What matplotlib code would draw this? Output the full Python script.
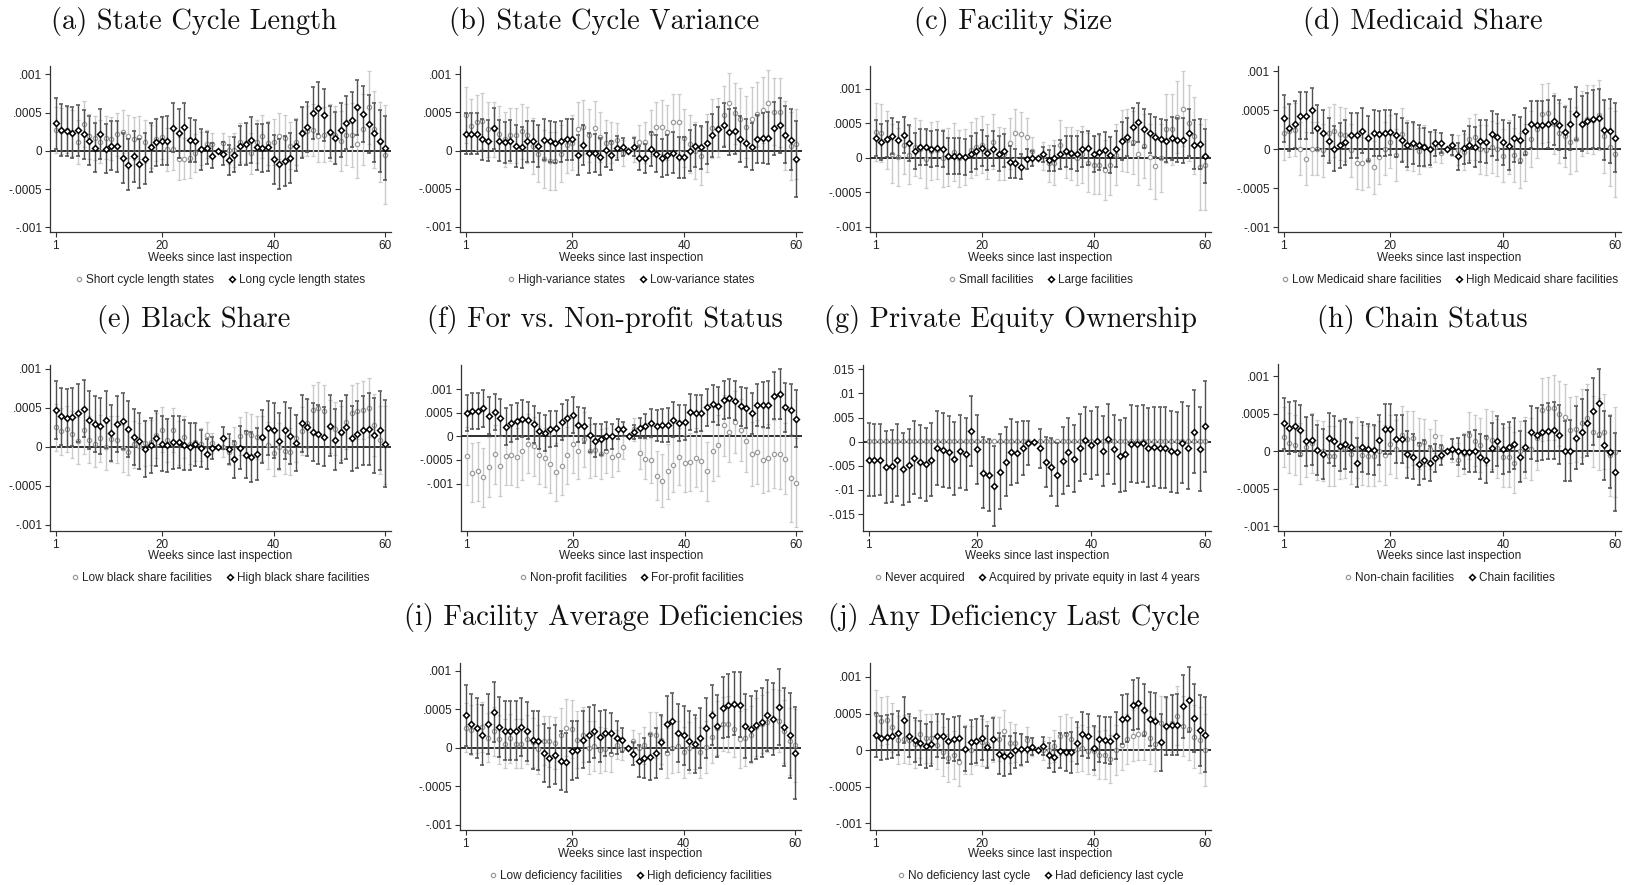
import matplotlib
matplotlib.use('Agg')
import matplotlib.pyplot as plt
from matplotlib.lines import Line2D

plt.rcParams['font.family'] = ['Liberation Sans', 'DejaVu Sans']

W, H = 1629, 885
fig = plt.figure(figsize=(W / 100, H / 100), dpi=100)

weeks = list(range(1, 61))
xticks = [1, 20, 40, 60]
xlabel = 'Weeks since last inspection'

# ---------------- data (estimates in units of 1e-5, panel g in 1e-4) ----------------
a_short = [27,26,27,24,12,35,19,17,12,17, 16,22,25,19,16,18,12,6,15,18, 2,3,-10,-10,-9,-3,3,9,9,0,
           10,1,1,11,10,-3,12,19,10,12, 20,17,7,12,25,26,27,20,21,24, 21,13,21,21,9,28,57,28,12,-5]
a_short_hw = [30,30,30,30,29,30,29,29,28,28, 28,28,28,28,28,28,28,28,28,28, 28,28,28,27,26,25,22,18,14,0,
              14,18,22,25,26,27,28,28,29,30, 30,30,31,31,32,33,34,35,36,37, 38,39,40,42,44,46,48,50,52,65]
a_long = [36,27,26,24,27,22,13,4,22,3, 7,6,-9,-18,-7,-17,-10,5,11,13, 13,30,23,31,14,13,2,4,-6,0,
          -4,-12,-5,7,9,14,5,4,5,-11, -17,-13,-9,7,24,31,49,56,47,25, 17,27,37,41,57,48,35,24,13,4]
a_long_hw = [33,34,33,33,33,32,32,32,33,32, 32,33,33,33,33,32,33,32,31,31, 32,32,32,31,29,28,27,21,16,0,
             15,20,23,26,28,30,30,31,31,32, 33,33,33,33,33,33,34,34,34,34, 34,35,35,36,36,37,38,39,40,42]

b_high = [47,32,37,39,28,28,22,15,20,20, 25,20,6,-4,-11,-14,-14,-4,7,10, 28,31,20,30,18,10,11,14,-3,0,
          2,11,11,23,31,31,24,37,37,17, 9,0,-7,10,29,30,46,63,49,42, 31,42,48,53,62,51,50,20,6,9]
b_high_hw = [37,36,36,37,36,36,36,36,36,36, 36,37,37,37,38,38,38,37,36,36, 36,36,35,35,33,30,27,22,17,0,
             17,22,27,30,33,35,36,37,37,38, 38,38,38,38,39,39,39,39,40,40, 41,41,42,43,44,44,45,45,45,46]
b_low = [22,22,22,15,13,29,13,11,13,6, 4,12,12,6,14,12,10,12,15,15, -6,7,-3,-3,-8,1,-6,3,5,0,
         5,-10,-10,2,-4,-10,-6,-3,-9,-9, 0,6,4,10,20,28,33,24,26,15, 10,5,15,16,16,29,33,21,14,-11]
b_low_hw = [27,27,27,27,27,27,27,27,27,27, 27,27,27,27,27,27,27,27,27,27, 26,26,26,25,24,22,19,16,12,0,
            12,16,19,22,24,25,26,27,27,27, 27,28,28,28,28,29,29,30,30,30, 31,31,32,33,34,35,36,38,40,50]

c_small = [37,36,25,6,1,18,4,15,13,-2, 10,11,0,1,8,-1,1,11,16,19, 9,23,6,5,21,35,34,30,10,0,
           2,-8,-7,19,8,6,0,5,-7,-11, -10,-18,-11,4,25,25,22,6,17,1, -12,0,42,41,59,71,50,32,-14,-10]
c_small_hw = [42,42,42,42,42,42,42,42,42,42, 42,42,42,42,42,41,41,41,41,41, 40,40,39,38,37,35,32,27,20,0,
              20,27,32,35,37,39,40,41,42,42, 43,43,43,44,44,45,45,46,46,47, 48,49,50,51,52,54,55,56,62,66]
c_large = [29,22,27,31,25,33,21,10,15,15, 13,14,12,2,3,2,1,5,10,14, 7,13,6,10,-6,-8,-13,-2,-1,0,
           5,-4,-1,5,9,7,6,12,14,6, 8,11,4,12,24,30,45,51,42,35, 30,27,24,28,26,25,36,19,20,3]
c_large_hw = [26,26,26,26,26,26,26,26,26,26, 26,26,26,26,26,26,26,26,26,26, 25,25,25,24,23,21,18,15,11,0,
              11,15,18,21,23,24,25,25,25,26, 26,26,26,26,27,27,27,28,28,28, 29,29,30,31,32,33,34,35,36,39]

d_low = [21,24,25,1,-12,1,1,-1,21,24, 20,19,-1,-17,-18,-14,-23,-10,1,10, -7,20,6,3,-2,4,0,3,-4,0,
         6,-1,-3,13,16,0,-1,3,0,-8, 3,-7,-14,-4,13,26,46,47,33,21, 17,9,13,33,39,38,44,17,3,-6]
d_low_hw = [34,34,34,34,34,34,34,34,34,34, 34,34,34,34,34,34,34,34,34,34, 33,33,32,31,29,27,23,19,14,0,
            14,19,23,27,29,31,32,33,34,34, 35,35,35,36,36,37,38,38,39,39, 40,40,41,42,43,44,45,47,50,55]
d_high = [40,28,32,43,43,50,28,21,11,1, 5,9,18,18,24,14,21,20,21,22, 18,12,6,8,5,3,1,8,8,0,
          6,-9,2,6,3,11,10,20,16,9, 4,14,12,23,32,31,31,33,37,31, 22,32,46,33,36,39,40,25,24,15]
d_high_hw = [30,30,30,30,30,29,29,29,29,29, 29,29,29,29,29,29,29,29,29,29, 28,28,28,27,26,24,21,17,13,0,
             13,17,21,24,26,27,28,29,29,29, 30,30,30,30,30,31,31,31,32,32, 33,33,34,35,36,37,38,39,41,44]

e_low = [25,20,23,16,8,21,9,4,11,0, 10,9,-2,-6,3,1,5,6,15,22, 9,22,5,13,4,6,3,15,5,0,
         0,-6,5,14,19,15,12,11,2,-8, 0,-5,-6,11,20,30,47,50,46,26, 23,18,32,43,46,47,50,28,9,2]
e_low_hw = [30,30,30,30,30,30,30,30,30,30, 30,30,30,30,30,30,29,29,29,29, 28,28,28,27,26,24,21,17,13,0,
            13,17,21,24,26,27,28,29,30,30, 30,30,30,31,31,32,32,33,33,34, 34,35,35,36,36,37,38,40,44,50]
e_high = [47,39,37,38,43,49,34,29,27,35, 18,29,33,23,13,8,-3,2,11,4, 2,6,6,2,0,3,-2,-9,-2,0,
          11,-3,-16,-1,-10,-13,-9,13,24,21, 7,21,14,5,30,25,19,16,13,27, 9,19,25,11,16,21,23,15,21,4]
e_high_hw = [37,37,37,37,37,37,37,36,36,36, 36,36,36,36,36,36,36,35,35,35, 34,34,33,32,30,28,24,19,14,0,
             14,19,24,28,30,32,33,34,35,35, 36,36,36,36,37,37,37,38,38,39, 39,40,41,42,43,44,46,48,51,56]

f_non = [-42,-77,-74,-87,-65,-38,-63,-41,-40,-44, -30,-15,-21,-39,-45,-58,-75,-63,-40,-16,
         -31,-6,-31,-28,-38,-30,-44,-40,-23,0, 15,-35,-48,-51,-83,-94,-74,-60,-43,-57,
         -54,-45,-52,-74,-31,-19,24,10,30,13, -9,-38,-33,-51,-45,-38,-37,-47,-88,-98]
f_non_hw = [62,63,63,63,63,63,63,63,63,63, 62,62,62,62,62,62,62,62,61,61, 60,59,58,56,53,48,42,34,24,0,
            24,34,42,48,53,56,58,59,60,61, 62,62,63,63,64,64,65,65,66,66, 67,68,69,70,71,72,74,76,93,95]
f_for = [50,54,54,60,44,52,40,21,28,33, 38,34,26,12,8,16,17,31,40,45, 25,23,3,-9,-6,1,0,16,16,0,
         10,18,22,28,23,24,24,36,29,30, 52,49,50,62,70,65,78,81,76,64, 61,49,67,68,68,87,91,62,57,38]
f_for_hw = [39,39,39,39,39,39,39,39,39,39, 39,39,39,38,38,38,38,38,38,38, 37,37,36,35,33,30,26,21,15,0,
            15,21,26,30,33,35,36,37,38,38, 39,39,39,39,40,40,40,41,41,42, 42,43,45,47,49,50,53,52,55,60]

g_never = [1,1,1,1,1,1,1,1,1,1, 1,1,1,1,1,1,1,1,1,1, 1,1,1,1,1,1,1,1,1,0,
           1,1,1,1,1,1,1,1,1,1, 1,1,1,1,1,1,2,2,2,1, 1,1,1,1,1,2,1,1,1,1]
g_never_hw = [2,2,2,2,2,2,2,2,2,2, 2,2,2,2,2,2,2,2,2,2, 2,2,2,2,2,2,2,2,1,0,
              1,2,2,2,2,2,2,2,2,2, 2,2,2,2,2,2,2,2,2,2, 2,2,2,2,2,2,2,2,2,2]
g_pe = [-37,-38,-37,-52,-50,-38,-57,-49,-33,-41, -47,-37,-13,-17,-21,-35,-20,-25,22,-16,
        -64,-69,-91,-62,-41,-21,-23,-13,-3,0, -14,-42,-52,-68,-39,-21,-35,-12,3,-7,
        1,-19,6,-16,-30,-26,-4,-5,-3,-12, -10,-12,-12,-20,-22,-2,-12,21,-15,32]
g_pe_hw = [75,74,74,74,74,75,75,75,76,76, 76,76,76,76,75,75,75,75,72,72, 74,74,83,78,72,68,63,56,45,0,
           40,52,60,66,70,70,70,70,70,70, 70,72,72,72,74,76,80,80,80,82, 82,84,84,84,84,84,86,86,88,94]

h_non = [19,11,8,-3,6,11,2,0,-6,-6, 3,4,-3,5,-5,-6,-6,0,-5,9, 3,22,16,18,10,12,3,20,6,0,
         2,-11,-3,21,14,8,19,15,4,-8, -8,-15,0,5,3,17,55,57,58,50, 46,28,30,38,44,26,23,26,-5,-1]
h_non_hw = [40,40,40,40,40,40,40,40,40,40, 40,40,40,40,40,40,40,40,40,39, 39,38,37,36,34,31,27,22,16,0,
            16,22,27,31,34,36,37,38,39,39, 40,40,40,41,41,42,42,42,43,43, 43,44,44,45,46,47,48,50,54,60]
h_chain = [37,31,33,28,13,15,2,-4,18,14, 7,10,6,-15,6,3,2,15,30,30, 16,16,-4,-7,-17,-11,-16,-9,-5,0,
           3,0,-1,-1,0,-7,-11,5,14,3, 6,10,-7,6,25,22,25,27,28,22, 0,1,18,26,38,53,64,8,-1,-28]
h_chain_hw = [34,34,34,34,33,33,33,33,33,33, 33,33,33,33,33,33,33,33,33,33, 32,32,31,30,28,26,23,18,13,0,
              13,18,23,26,28,30,31,32,33,33, 33,34,34,34,35,35,36,37,38,39, 40,41,42,43,44,45,45,46,48,52]

i_low = [26,23,25,27,13,21,11,5,12,5, 5,11,7,-2,9,8,6,17,26,24, 10,17,0,2,-3,-2,-8,4,-2,0,
         9,0,3,18,16,10,-7,0,2,-6, 0,5,-6,1,14,26,31,31,24,11, 13,17,27,31,33,37,35,21,8,3]
i_low_hw = [32,32,32,32,32,32,32,32,32,32, 32,32,32,32,32,33,34,35,37,38, 37,36,34,32,30,28,24,19,14,0,
            14,19,24,28,30,31,32,33,33,33, 33,33,33,34,34,35,35,36,36,37, 37,37,38,38,39,39,40,41,43,47]
i_high = [42,31,26,17,31,46,27,22,22,22, 27,21,10,9,-7,-13,-9,-17,-19,-4, -3,10,17,21,14,19,19,13,10,0,
          -8,-17,-14,-12,-7,7,31,34,19,16, 9,5,12,26,43,28,52,55,57,56, 28,24,29,33,42,37,53,27,16,-7]
i_high_hw = [40,39,39,39,39,39,39,38,38,38, 38,38,38,38,38,38,38,38,38,38, 37,37,36,35,33,30,26,21,15,0,
             15,21,26,30,33,35,36,37,38,38, 38,38,39,39,39,40,40,41,41,42, 42,43,44,45,46,47,49,51,55,60]

j_no = [49,40,41,31,14,15,14,8,22,16, 16,7,-2,-11,-7,-16,1,0,12,11, 9,15,15,26,10,10,1,14,5,0,
        0,0,6,20,22,15,1,3,-1,-1, -7,-6,-12,0,7,15,20,22,23,17, 8,37,33,37,47,33,29,18,14,0]
j_no_hw = [33,33,33,33,33,33,33,33,33,33, 33,33,33,33,33,33,33,33,32,32, 31,31,30,29,28,26,22,18,13,0,
           13,18,22,26,28,30,31,32,32,33, 33,33,33,34,34,34,35,35,36,36, 37,37,38,39,40,41,42,43,45,49]
j_had = [21,17,18,19,24,41,20,14,10,6, 8,20,19,12,15,17,1,11,13,17, 4,15,-5,-8,-6,0,1,1,5,0,
         6,-7,-9,-1,-3,-3,10,22,19,3, 15,14,13,20,42,44,62,64,55,43, 40,11,33,34,35,60,69,44,27,21]
j_had_hw = [30,30,30,30,30,31,30,30,30,30, 30,30,30,30,30,30,30,30,30,30, 29,29,28,27,26,24,21,17,12,0,
            12,17,21,24,26,28,29,30,30,30, 31,31,32,32,33,33,34,35,36,37, 38,39,40,41,42,43,44,46,48,51]

small_ticks = [0.001, 0.0005, 0, -0.0005, -0.001]
small_labels = ['.001', '.0005', '0', '-.0005', '-.001']
pe_ticks = [0.015, 0.01, 0.005, 0, -0.005, -0.01, -0.015]
pe_labels = ['.015', '.01', '.005', '0', '-.005', '-.01', '-.015']

# panel layout in reference pixels: (left, top, right, bottom)
panels = [
    ('(a) State Cycle Length', (50, 66, 391, 232), (-0.00106, 0.00111), 1e-5,
     a_short, a_short_hw, 'Short cycle length states', a_long, a_long_hw, 'Long cycle length states'),
    ('(b) State Cycle Variance', (460, 66, 802, 232), (-0.00107, 0.00111), 1e-5,
     b_high, b_high_hw, 'High-variance states', b_low, b_low_hw, 'Low-variance states'),
    ('(c) Facility Size', (870, 66, 1211, 232), (-0.001075, 0.001326), 1e-5,
     c_small, c_small_hw, 'Small facilities', c_large, c_large_hw, 'Large facilities'),
    ('(d) Medicaid Share', (1278, 66, 1621, 232), (-0.00106, 0.00107), 1e-5,
     d_low, d_low_hw, 'Low Medicaid share facilities', d_high, d_high_hw, 'High Medicaid share facilities'),
    ('(e) Black Share', (50, 365, 391, 531), (-0.00108, 0.00105), 1e-5,
     e_low, e_low_hw, 'Low black share facilities', e_high, e_high_hw, 'High black share facilities'),
    ('(f) For vs. Non-profit Status', (461, 365, 802, 531), (-0.00201, 0.00152), 1e-5,
     f_non, f_non_hw, 'Non-profit facilities', f_for, f_for_hw, 'For-profit facilities'),
    ('(g) Private Equity Ownership', (863, 365, 1211, 531), (-0.0185, 0.0159), 1e-4,
     g_never, g_never_hw, 'Never acquired', g_pe, g_pe_hw, 'Acquired by private equity in last 4 years'),
    ('(h) Chain Status', (1278, 364, 1621, 531), (-0.00106, 0.00116), 1e-5,
     h_non, h_non_hw, 'Non-chain facilities', h_chain, h_chain_hw, 'Chain facilities'),
    ('(i) Facility Average Deficiencies', (460, 663, 801, 830), (-0.00107, 0.0011), 1e-5,
     i_low, i_low_hw, 'Low deficiency facilities', i_high, i_high_hw, 'High deficiency facilities'),
    ('(j) Any Deficiency Last Cycle', (870, 663, 1211, 830), (-0.00109, 0.00119), 1e-5,
     j_no, j_no_hw, 'No deficiency last cycle', j_had, j_had_hw, 'Had deficiency last cycle'),
]

row_text = {66: (21, 258, 280), 364: (320, 556, 578), 365: (320, 556, 578), 663: (618, 854, 876)}

GRAY_MK = '#9c9c9c'
GRAY_BAR = '#cbcbcb'
DARK_BAR = '#505050'
AXC = '#333333'
FS = 8.5
MS_O = 3.1
MS_D = 3.0

for (title, (l, t, r, b), ylim, scale, g_est, g_hw, g_lab, k_est, k_hw, k_lab) in panels:
    ax = fig.add_axes([l / W, 1 - b / H, (r - l) / W, (b - t) / H])
    ax.axhline(0, color='#2e2e2e', lw=1.4, zorder=1)
    ax.errorbar(weeks, [v * scale for v in g_est], yerr=[v * scale for v in g_hw],
                fmt='o', ms=MS_O, mfc='white', mec=GRAY_MK, mew=0.9,
                ecolor=GRAY_BAR, elinewidth=1.0, capsize=1.2, capthick=1.0, zorder=2)
    ax.errorbar(weeks, [v * scale for v in k_est], yerr=[v * scale for v in k_hw],
                fmt='D', ms=MS_D, mfc='white', mec='black', mew=1.1,
                ecolor=DARK_BAR, elinewidth=1.0, capsize=1.2, capthick=1.0, zorder=3)
    ax.set_xlim(0, 61)
    ax.set_ylim(*ylim)
    ax.set_xticks(xticks)
    if scale == 1e-4:
        ax.set_yticks(pe_ticks)
        ax.set_yticklabels(pe_labels)
    else:
        ax.set_yticks(small_ticks)
        ax.set_yticklabels(small_labels)
    for s in ('top', 'right'):
        ax.spines[s].set_visible(False)
    for s in ('left', 'bottom'):
        ax.spines[s].set_color(AXC)
        ax.spines[s].set_linewidth(0.9)
    ax.tick_params(direction='out', length=3.5, width=0.8, colors=AXC,
                   labelsize=FS, labelcolor='#222222', pad=2)
    ax.set_facecolor('white')

    ty, xly, ly = row_text[t]
    cx = (l + r) / 2
    fig.text((cx - 27) / W, 1 - ty / H, title, fontfamily='cmr10', fontsize=20.5,
             ha='center', va='center', color='#111111')
    fig.text(cx / W, 1 - xly / H, xlabel, ha='center', va='center',
             fontsize=FS, color='#222222')
    handles = [Line2D([], [], ls='none', marker='o', ms=MS_O, mfc='white', mec=GRAY_MK, mew=0.9),
               Line2D([], [], ls='none', marker='D', ms=MS_D, mfc='white', mec='black', mew=1.1)]
    fig.legend(handles, [g_lab, k_lab], loc='center', bbox_to_anchor=(cx / W, 1 - ly / H),
               ncol=2, frameon=False, fontsize=FS, handlelength=0.6, handletextpad=0.3,
               columnspacing=1.2, borderpad=0, borderaxespad=0, labelcolor='#222222')

fig.savefig('out.png', dpi=100, facecolor='white')
